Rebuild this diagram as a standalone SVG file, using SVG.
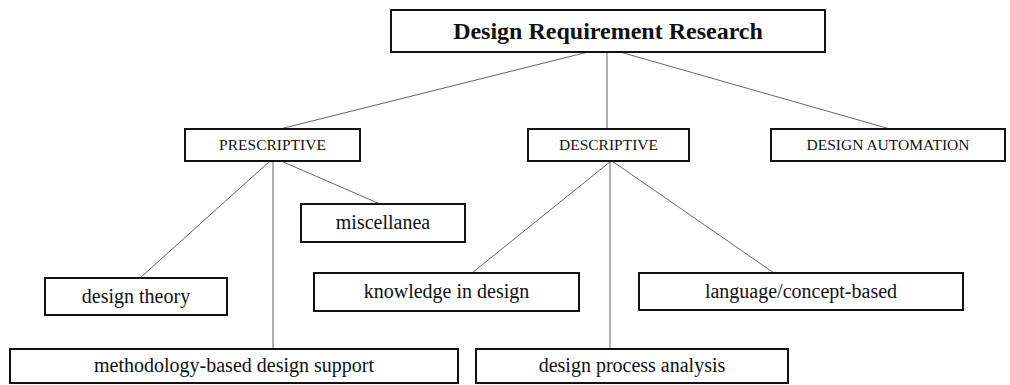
<svg xmlns="http://www.w3.org/2000/svg" width="1010" height="385" viewBox="0 0 1010 385">
<style>
.box{fill:#fff;stroke:#111;stroke-width:2}
.t{font-family:"Liberation Serif","Times New Roman",serif;fill:#111;text-anchor:middle}
.lg{font-size:20px}
.cap{font-size:15.5px}
.title{font-size:24px;font-weight:bold}
.conn line{stroke:#666;stroke-width:1}
</style>
<rect width="1010" height="385" fill="#fff"/>
<g class="conn" id="connectors">
<line x1="588" y1="52" x2="280" y2="129"/>
<line x1="607" y1="52" x2="607" y2="129"/>
<line x1="620" y1="52" x2="890" y2="129"/>
<line x1="270" y1="161" x2="140" y2="278"/>
<line x1="273" y1="161" x2="273" y2="349"/>
<line x1="281" y1="161" x2="380" y2="204"/>
<line x1="611" y1="161" x2="472" y2="273"/>
<line x1="610" y1="161" x2="610" y2="349"/>
<line x1="612" y1="161" x2="774" y2="273"/>
</g>
<g id="root"><rect class="box" x="391" y="10" width="434" height="42"/><text class="t title" x="608" y="39">Design Requirement Research</text></g>
<g id="prescriptive"><rect class="box" x="185" y="129" width="175" height="32"/><text class="t cap" x="272.5" y="150">PRESCRIPTIVE</text></g>
<g id="descriptive"><rect class="box" x="528" y="129" width="161" height="32"/><text class="t cap" x="608.5" y="150">DESCRIPTIVE</text></g>
<g id="automation"><rect class="box" x="771" y="129" width="234" height="32"/><text class="t cap" x="888" y="150">DESIGN AUTOMATION</text></g>
<g id="miscellanea"><rect class="box" x="301" y="204" width="164" height="38"/><text class="t lg" x="383" y="229">miscellanea</text></g>
<g id="theory"><rect class="box" x="45" y="278" width="182" height="37"/><text class="t lg" x="136" y="303">design theory</text></g>
<g id="knowledge"><rect class="box" x="314" y="273" width="265" height="38"/><text class="t lg" x="446.5" y="298">knowledge in design</text></g>
<g id="language"><rect class="box" x="639" y="273" width="324" height="37"/><text class="t lg" x="801" y="298">language/concept-based</text></g>
<g id="methodology"><rect class="box" x="10" y="349" width="448" height="34"/><text class="t lg" x="234" y="372">methodology-based design support</text></g>
<g id="process"><rect class="box" x="476" y="349" width="312" height="34"/><text class="t lg" x="632" y="372">design process analysis</text></g>
</svg>
